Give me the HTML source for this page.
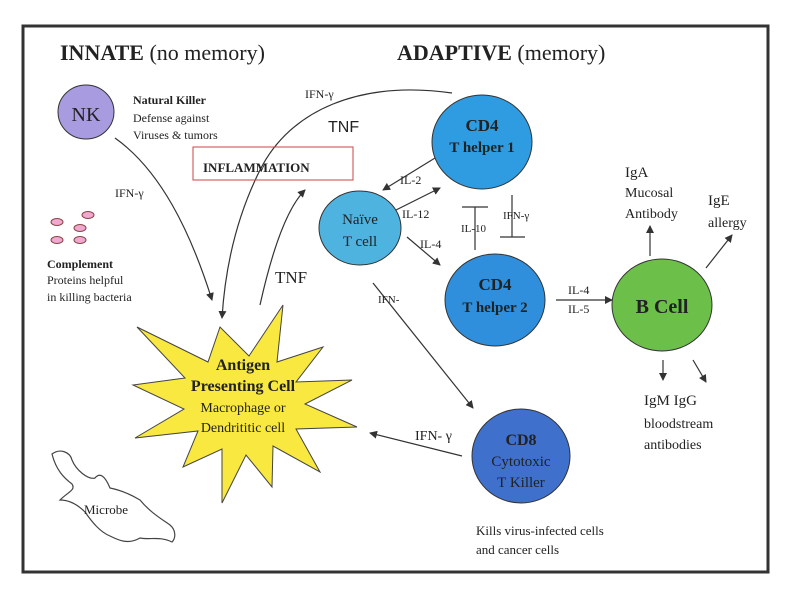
<!DOCTYPE html>
<html><head><meta charset="utf-8"><style>
body{margin:0;background:#fff}
svg{display:block}
text{font-family:"Liberation Serif",serif;fill:#222}
</style></head><body>
<svg width="800" height="600" viewBox="0 0 800 600">
<defs>
<marker id="a" markerWidth="8" markerHeight="8" refX="7" refY="4" orient="auto" markerUnits="userSpaceOnUse"><path d="M0,0 L8,4 L0,8 Z" fill="#333"/></marker>
</defs>
<rect x="23" y="26" width="745" height="546" fill="none" stroke="#333" stroke-width="3"/>
<text x="60" y="60" font-size="22"><tspan font-weight="bold">INNATE</tspan> (no memory)</text>
<text x="397" y="60" font-size="22"><tspan font-weight="bold">ADAPTIVE</tspan> (memory)</text>

<ellipse cx="86" cy="112" rx="28" ry="27" fill="#a99be0" stroke="#333"/>
<text x="86" y="121" font-size="20" text-anchor="middle" fill="#222">NK</text>
<text x="133" y="104" font-size="12" font-weight="bold">Natural Killer</text>
<text x="133" y="122" font-size="12">Defense against</text>
<text x="133" y="139" font-size="12">Viruses &amp; tumors</text>

<g fill="#f0a8d0" stroke="#844">
<ellipse cx="57" cy="222" rx="6" ry="3.5"/><ellipse cx="88" cy="215" rx="6" ry="3.5"/>
<ellipse cx="80" cy="228" rx="6" ry="3.5"/><ellipse cx="57" cy="240" rx="6" ry="3.5"/>
<ellipse cx="80" cy="240" rx="6" ry="3.5"/></g>
<text x="47" y="268" font-size="12" font-weight="bold">Complement</text>
<text x="47" y="284" font-size="12">Proteins helpful</text>
<text x="47" y="301" font-size="12">in killing bacteria</text>

<g fill="none" stroke="#333" stroke-width="1.2">
<path d="M115,138 C160,170 190,230 212,300" marker-end="url(#a)"/>
<path d="M452,93 C360,80 290,110 260,170 C235,220 225,270 222,318" marker-end="url(#a)"/>
<path d="M260,305 C270,260 285,210 305,190" marker-end="url(#a)"/>
<path d="M435,158 L383,190" marker-end="url(#a)"/>
<path d="M392,212 L440,188" marker-end="url(#a)"/>
<path d="M407,237 L440,265" marker-end="url(#a)"/>
<path d="M475,207 L475,250 M462,207 L488,207"/>
<path d="M512,195 L512,237 M500,237 L525,237"/>
<path d="M373,283 L473,408" marker-end="url(#a)"/>
<path d="M556,300 L612,300" marker-end="url(#a)"/>
<path d="M650,256 L650,226" marker-end="url(#a)"/>
<path d="M706,268 L732,235" marker-end="url(#a)"/>
<path d="M663,360 L663,380" marker-end="url(#a)"/>
<path d="M693,360 L706,382" marker-end="url(#a)"/>
<path d="M462,456 L370,433" marker-end="url(#a)"/>
</g>
<text x="305" y="98" font-size="12">IFN-γ</text>
<text x="328" y="132" font-size="16" style="font-family:'Liberation Sans',sans-serif" fill="#000">TNF</text>
<rect x="193" y="147" width="160" height="33" fill="none" stroke="#c44"/>
<text x="203" y="172" font-size="13" font-weight="bold">INFLAMMATION</text>
<text x="115" y="197" font-size="12">IFN-γ</text>
<text x="275" y="283" font-size="17">TNF</text>

<ellipse cx="482" cy="142" rx="50" ry="47" fill="#2f9be0" stroke="#333"/>
<text x="482" y="131" font-size="17" font-weight="bold" text-anchor="middle" fill="#222">CD4</text>
<text x="482" y="152" font-size="15" font-weight="bold" text-anchor="middle" fill="#222">T helper 1</text>
<ellipse cx="360" cy="228" rx="41" ry="37" fill="#4fb3e0" stroke="#333"/>
<text x="360" y="224" font-size="15" text-anchor="middle" fill="#222">Naïve</text>
<text x="360" y="246" font-size="15" text-anchor="middle" fill="#222">T cell</text>
<ellipse cx="495" cy="300" rx="50" ry="46" fill="#2f8fdc" stroke="#333"/>
<text x="495" y="290" font-size="17" font-weight="bold" text-anchor="middle" fill="#222">CD4</text>
<text x="495" y="312" font-size="15" font-weight="bold" text-anchor="middle" fill="#222">T helper 2</text>
<text x="400" y="184" font-size="12">IL-2</text>
<text x="402" y="218" font-size="12">IL-12</text>
<text x="420" y="248" font-size="12">IL-4</text>
<text x="461" y="232" font-size="11">IL-10</text>
<text x="503" y="219" font-size="11">IFN-γ</text>
<text x="378" y="303" font-size="11">IFN-</text>
<text x="568" y="294" font-size="12">IL-4</text>
<text x="568" y="313" font-size="12">IL-5</text>

<ellipse cx="662" cy="305" rx="50" ry="46" fill="#6cc04a" stroke="#333"/>
<text x="662" y="313" font-size="20" font-weight="bold" text-anchor="middle" fill="#222">B Cell</text>
<text x="625" y="177" font-size="15">IgA</text>
<text x="625" y="197" font-size="14">Mucosal</text>
<text x="625" y="218" font-size="14">Antibody</text>
<text x="708" y="205" font-size="15">IgE</text>
<text x="708" y="227" font-size="14">allergy</text>
<text x="644" y="405" font-size="15">IgM  IgG</text>
<text x="644" y="428" font-size="14">bloodstream</text>
<text x="644" y="449" font-size="14">antibodies</text>

<ellipse cx="521" cy="456" rx="49" ry="47" fill="#3f70cc" stroke="#333"/>
<text x="521" y="445" font-size="16" font-weight="bold" text-anchor="middle" fill="#222">CD8</text>
<text x="521" y="466" font-size="15" text-anchor="middle" fill="#222">Cytotoxic</text>
<text x="521" y="487" font-size="15" text-anchor="middle" fill="#222">T Killer</text>
<text x="415" y="440" font-size="14">IFN- γ</text>
<text x="476" y="535" font-size="13">Kills virus-infected cells</text>
<text x="476" y="554" font-size="13">and cancer cells</text>

<polygon fill="#f8e840" stroke="#444" points="137,327 208,362 220,327 249,356 283,305 277,362 323,347 296,382 352,380 305,404 357,427 296,429 320,472 273,446 272,487 246,455 222,503 222,449 183,467 198,431 135,438 184,409 133,385 185,378"/>
<text x="243" y="370" font-size="16" font-weight="bold" text-anchor="middle" fill="#222">Antigen</text>
<text x="243" y="391" font-size="16" font-weight="bold" text-anchor="middle" fill="#222">Presenting Cell</text>
<text x="243" y="412" font-size="14" text-anchor="middle" fill="#222">Macrophage or</text>
<text x="243" y="432" font-size="14" text-anchor="middle" fill="#222">Dendrititic cell</text>

<path d="M52,454 C60,448 70,452 72,460 C76,470 88,480 95,478 C100,472 105,476 110,488 C120,490 130,494 140,500 C150,512 160,518 170,525 C176,530 176,538 172,542 C160,536 150,540 140,538 C128,545 118,540 110,536 C100,532 92,522 85,512 C78,505 70,500 60,500 C68,492 76,490 72,484 C64,478 56,470 52,454 Z" fill="none" stroke="#444" stroke-width="1.2"/>
<text x="84" y="514" font-size="13">Microbe</text>
</svg>
</body></html>
